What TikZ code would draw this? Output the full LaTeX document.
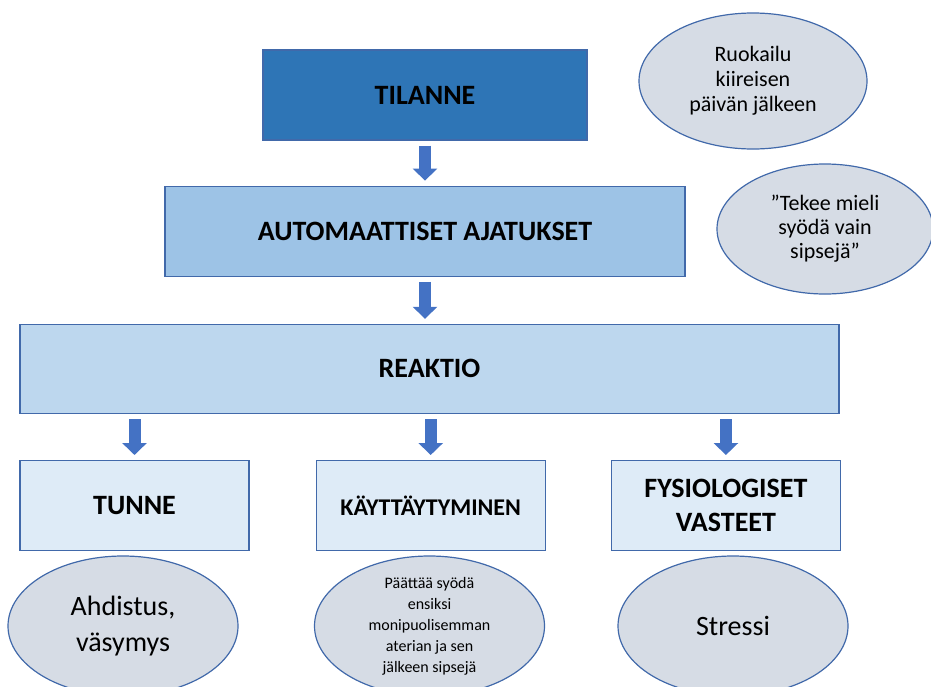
\documentclass[tikz,border=0pt]{standalone}
\usepackage{fontspec}
\setmainfont{Carlito}
\usetikzlibrary{positioning, shapes.geometric, arrows.meta}

\definecolor{darkblue}{HTML}{2E75B6}
\definecolor{midblue}{HTML}{9DC3E6}
\definecolor{lightblue}{HTML}{BDD7EE}
\definecolor{paleblue}{HTML}{DEEBF7}
\definecolor{bubblegray}{HTML}{D6DCE5}
\definecolor{edgeblue}{HTML}{4169AA}
\definecolor{arrowblue}{HTML}{4472C4}

\begin{document}
\begin{tikzpicture}[x=1pt, y=-1pt, line/.style={draw=arrowblue, line width=#1}, border/.style={draw=edgeblue, line width=#1}]
    % Define styles for blocks, bubbles and arrows
    \tikzstyle{block} = [rectangle, border=1.2pt, inner sep=0pt, align=center, font=\fontsize{28}{34}\selectfont\bfseries]
    \tikzstyle{bubble} = [ellipse, fill=bubblegray, border=1.2pt, inner sep=0pt, align=center]
    \tikzstyle{flow} = [line=12pt, -{Triangle[width=24pt, length=12pt]}, shorten <=5pt, shorten >=5pt]

    \useasboundingbox (0,0) rectangle (931,686);

    % Nodes placement
    \node [block, fill=darkblue, minimum width=324pt, minimum height=90pt] (tilanne) at (425,95) {TILANNE};
    \node [block, fill=midblue, minimum width=520pt, minimum height=90pt, below=45pt of tilanne] (automaattiset) {AUTOMAATTISET AJATUKSET};
    \node [block, fill=lightblue, minimum width=819pt, minimum height=89pt, below=47pt of automaattiset, xshift=4.5pt] (reaktio) {REAKTIO};
    \node [block, fill=paleblue, minimum width=229pt, minimum height=90pt, below right=46pt and 0pt of reaktio.south west] (tunne) {TUNNE};
    \node [block, fill=paleblue, minimum width=229pt, minimum height=90pt, right=66pt of tunne, font=\fontsize{24}{29}\selectfont\bfseries] (kayttaytyminen) {KÄYTTÄYTYMINEN};
    \node [block, fill=paleblue, minimum width=229pt, minimum height=90pt, right=65pt of kayttaytyminen] (fysiologiset) {FYSIOLOGISET\\VASTEET};

    % Bubbles
    \node [bubble, minimum width=228pt, minimum height=136pt, font=\fontsize{22}{25}\selectfont] (tilannebubble) at (753,81) {Ruokailu\\kiireisen\\päivän jälkeen};
    \node [bubble, minimum width=216pt, minimum height=130pt, font=\fontsize{22}{24}\selectfont] (ajatusbubble) at (825,229) {”Tekee mieli\\syödä vain\\sipsejä”};
    \node [bubble, minimum width=230pt, minimum height=140pt, font=\fontsize{28}{36}\selectfont] (tunnebubble) at (123,626) {Ahdistus,\\väsymys};
    \node [bubble, minimum width=230pt, minimum height=140pt, inner ysep=-6pt, font=\fontsize{16}{21}\selectfont] (kaytosbubble) at (429.5,626) {Päättää syödä\\ensiksi\\monipuolisemman\\aterian ja sen\\jälkeen sipsejä};
    \node [bubble, minimum width=230pt, minimum height=140pt, font=\fontsize{28}{34}\selectfont] (fysiobubble) at (733,626) {Stressi};

    % Draw edges
    \draw [flow] (tilanne) -- (automaattiset);
    \draw [flow] (automaattiset.south) -- (automaattiset.south |- reaktio.north);
    \draw [flow] (reaktio.south -| tunne) -- (tunne.north);
    \draw [flow] (reaktio.south -| kayttaytyminen) -- (kayttaytyminen.north);
    \draw [flow] (reaktio.south -| fysiologiset) -- (fysiologiset.north);
\end{tikzpicture}
\end{document}
